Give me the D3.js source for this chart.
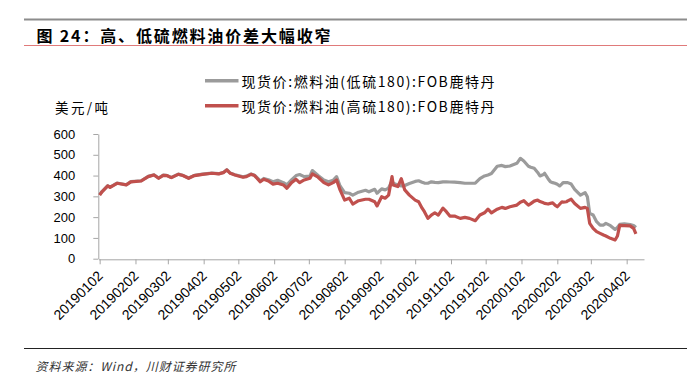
<!DOCTYPE html>
<html>
<head>
<meta charset="utf-8">
<script src="https://cdn.jsdelivr.net/npm/d3@7"></script>
<style>
  body { margin: 0; background: #fff; }
  svg { display: block; }
  .cjk { font-family: "Noto Sans CJK SC", sans-serif; }
  .num { font-family: "Liberation Sans", Arial, sans-serif; }
</style>
</head>
<body>
<script>
// trading days (yyyymmdd)
const dates = [
  '20190102','20190104','20190109','20190111','20190117','20190125','20190129','20190207',
  '20190213','20190218','20190222','20190226','20190301','20190305','20190311','20190315',
  '20190320','20190325','20190401','20190409','20190415','20190419','20190422','20190425',
  '20190429','20190502','20190506','20190509','20190513','20190516','20190521','20190524',
  '20190528','20190601','20190605','20190610','20190613','20190617','20190621','20190624',
  '20190628','20190703','20190705','20190710','20190715','20190719','20190723','20190726',
  '20190729','20190802','20190806','20190809','20190814','20190820','20190823','20190828',
  '20190830','20190903','20190906','20190909','20190912','20190913','20190917','20190920',
  '20190923','20190927','20191002','20191005','20191008','20191010','20191013','20191016',
  '20191019','20191022','20191026','20191029','20191101','20191105','20191110','20191114',
  '20191118','20191123','20191127','20191201','20191204','20191207','20191212','20191216',
  '20191219','20191223','20191229','20200101','20200104','20200108','20200110','20200113',
  '20200116','20200118','20200121','20200122','20200125','20200127','20200129','20200131',
  '20200202','20200204','20200206','20200207','20200210','20200211','20200214','20200217',
  '20200222','20200226','20200228','20200301','20200304','20200307','20200310','20200313',
  '20200315','20200319','20200323','20200325','20200327','20200331','20200405','20200408',
  '20200410'
]

// 低硫180 (grey)
const lowSulfur = [
  308,323,351,344,364,356,371,375,
  396,404,388,402,401,391,407,401,
  388,401,407,412,409,415,428,412,
  404,400,394,397,408,402,374,386,
  380,370,377,366,355,379,400,405,
  395,398,424,400,379,370,377,395,
  350,318,315,306,320,329,322,334,
  315,336,331,340,375,363,355,350,
  352,362,372,375,368,364,363,370,
  367,366,370,370,369,368,366,363,
  363,364,385,398,403,410,445,449,
  443,446,459,483,470,445,440,435,
  415,398,405,411,385,370,366,363,
  358,350,360,366,366,366,359,334,
  306,318,298,218,210,178,162,162,
  170,159,141,150,165,168,164,160,
  150
]

// 高硫180 (red)
const highSulfur = [
  306,322,350,343,363,355,370,374,
  395,403,387,401,400,390,406,400,
  387,400,406,411,408,414,427,411,
  403,398,392,395,406,400,370,382,
  374,359,363,355,339,366,382,366,
  379,387,408,392,366,355,366,379,
  331,282,291,263,279,286,286,274,
  254,298,291,306,395,355,347,385,
  331,306,282,274,243,226,194,210,
  221,210,243,226,205,205,194,199,
  194,183,210,221,238,221,238,247,
  242,250,258,272,279,258,265,277,
  282,275,269,266,263,266,269,258,
  250,262,274,272,274,278,286,266,
  242,247,242,170,146,130,122,114,
  109,98,90,109,160,159,158,146,
  119
]

const yTicks = [0, 100, 200, 300, 400, 500, 600]
const xTickLabels = [
  '20190102','20190202','20190302','20190402','20190502','20190602','20190702','20190802',
  '20190902','20191002','20191102','20191202','20200102','20200202','20200302','20200402'
]

const title = '图 24：高、低硫燃料油价差大幅收窄'
const legendLow = '现货价:燃料油(低硫180):FOB鹿特丹'
const legendHigh = '现货价:燃料油(高硫180):FOB鹿特丹'
const unit = '美元/吨'
const source = '资料来源：Wind，川财证券研究所'

const grey = '#9b9b9b'
const red = '#c0504d'
const axisColor = '#a6a6a6'

const width = 687
const height = 383
const parse = d3.utcParse('%Y%m%d')

const svg = d3.select('body').append('svg')
  .attr('width', width)
  .attr('height', height)

// frame lines and title
svg.append('line')
  .attr('x1', 24).attr('x2', width).attr('y1', 19.5).attr('y2', 19.5)
  .attr('stroke', '#8c8c8c').attr('stroke-width', 2)
svg.append('line')
  .attr('x1', 24).attr('x2', width).attr('y1', 45.5).attr('y2', 45.5)
  .attr('stroke', '#e07a7a').attr('stroke-width', 1)
svg.append('line')
  .attr('x1', 24).attr('x2', width).attr('y1', 348.5).attr('y2', 348.5)
  .attr('stroke', '#222').attr('stroke-width', 1)

svg.append('text').attr('class', 'cjk')
  .attr('x', 36.5).attr('y', 34.5)
  .attr('dominant-baseline', 'central')
  .attr('font-size', 16).attr('font-weight', 700)
  .attr('textLength', 294).attr('lengthAdjust', 'spacing')
  .text(title)

svg.append('text').attr('class', 'cjk')
  .attr('x', 35.5).attr('y', 365)
  .attr('dominant-baseline', 'central')
  .attr('font-size', 12).attr('font-style', 'italic').attr('fill', '#333')
  .attr('textLength', 200).attr('lengthAdjust', 'spacing')
  .text(source)

// scales
const x = d3.scaleTime()
  .domain([parse('20190101'), parse('20200417')])
  .range([98.5, 644])
const y = d3.scaleLinear().domain([0, 600]).range([258.7, 134])

// axes
const yAxis = svg.append('g')
  .attr('transform', 'translate(98.3,0)')
  .call(d3.axisLeft(y).tickValues(yTicks).tickSize(5).tickSizeOuter(0).tickPadding(18))
yAxis.select('.domain').attr('stroke', axisColor)
yAxis.selectAll('.tick line').attr('stroke', axisColor)
yAxis.selectAll('.tick text')
  .attr('class', 'num')
  .attr('font-size', 13)
  .attr('fill', '#000')

const xAxis = svg.append('g')
  .attr('transform', 'translate(0,259.3)')
  .call(d3.axisBottom(x)
    .tickValues(xTickLabels.map(parse))
    .tickFormat(d3.utcFormat('%Y%m%d'))
    .tickSize(5).tickSizeOuter(0))
xAxis.select('.domain').attr('stroke', axisColor)
xAxis.selectAll('.tick line').attr('stroke', axisColor)
xAxis.selectAll('.tick text')
  .attr('class', 'num')
  .attr('font-size', 14)
  .attr('fill', '#000')
  .attr('text-anchor', 'end')
  .attr('y', 0).attr('dy', 0)
  .attr('transform', 'translate(3.5,17.5) rotate(-45)')

// lines
const rows = dates.map((d, i) => ({ date: parse(d), low: lowSulfur[i], high: highSulfur[i] }))

const line = (key) => d3.line()
  .x(d => x(d.date))
  .y(d => y(d[key]))

svg.append('path')
  .datum(rows)
  .attr('fill', 'none')
  .attr('stroke', grey)
  .attr('stroke-width', 3.2)
  .attr('stroke-linejoin', 'round')
  .attr('d', line('low'))

svg.append('path')
  .datum(rows)
  .attr('fill', 'none')
  .attr('stroke', red)
  .attr('stroke-width', 3.2)
  .attr('stroke-linejoin', 'round')
  .attr('d', line('high'))

// legend
const legend = [
  { label: legendLow, color: grey, y: 80.7 },
  { label: legendHigh, color: red, y: 105.7 }
]
legend.forEach(l => {
  svg.append('line')
    .attr('x1', 205).attr('x2', 238.5).attr('y1', l.y).attr('y2', l.y)
    .attr('stroke', l.color).attr('stroke-width', 3.5)
  svg.append('text').attr('class', 'cjk')
    .attr('x', 241.5).attr('y', l.y)
    .attr('dominant-baseline', 'central')
    .attr('font-size', 14)
    .attr('textLength', 253).attr('lengthAdjust', 'spacing')
    .text(l.label)
})

svg.append('text').attr('class', 'cjk')
  .attr('x', 55).attr('y', 106.5)
  .attr('dominant-baseline', 'central')
  .attr('font-size', 13.5)
  .attr('textLength', 53).attr('lengthAdjust', 'spacing')
  .text(unit)
</script>
</body>
</html>
